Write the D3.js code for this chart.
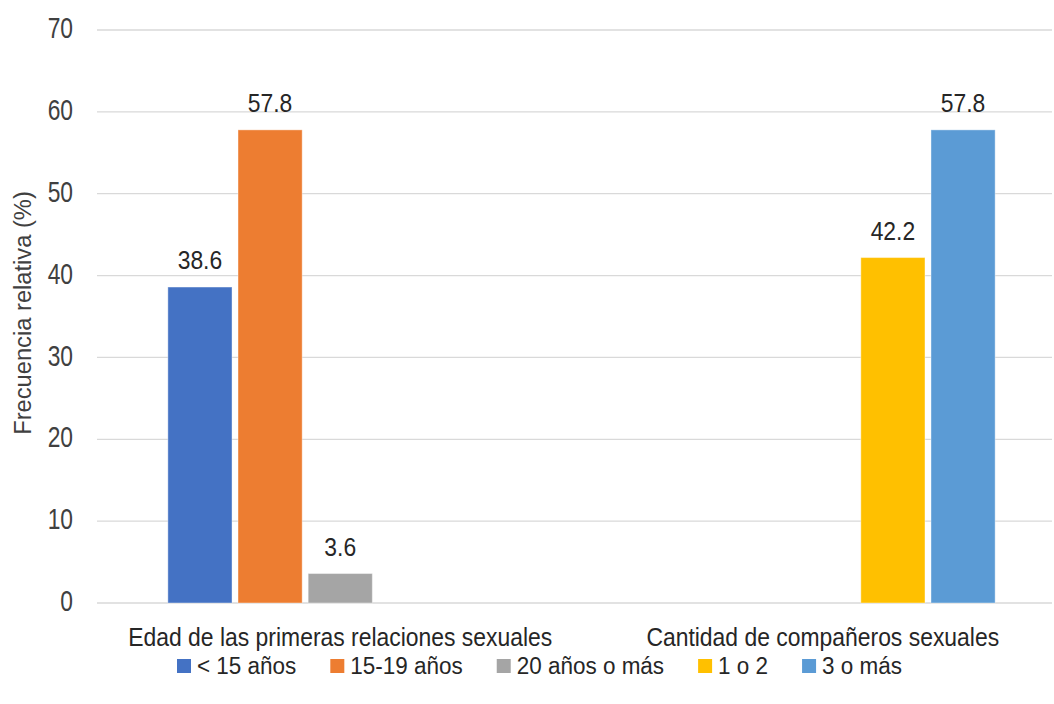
<!DOCTYPE html>
<html>
<head>
<meta charset="utf-8">
<script src="https://cdn.jsdelivr.net/npm/d3@7"></script>
<style>
  body { margin: 0; background: #fff; }
  text { font-family: "Liberation Sans", Arial, sans-serif; fill: #262626; }
</style>
</head>
<body>
<div id="chart"></div>
<script>
// data
var categories = ["Edad de las primeras relaciones sexuales", "Cantidad de compañeros sexuales"];
var seriesNames = ["< 15 años", "15-19 años", "20 años o más", "1 o 2", "3 o más"];
var seriesColors = ["#4472C4", "#ED7D31", "#A5A5A5", "#FFC000", "#5B9BD5"];
// values per series, one per category (null = no bar)
var edadValues = [38.6, 57.8, 3.6, null, null];
var companerosValues = [null, null, null, 42.2, 57.8];
var yTicks = [0, 10, 20, 30, 40, 50, 60, 70];

var svgWidth = 1054, svgHeight = 704;
var svg = d3.select("#chart").append("svg")
  .attr("width", svgWidth)
  .attr("height", svgHeight);

// squeeze Liberation Sans into an Arial Narrow look
function narrow(sel, k) {
  sel.each(function() {
    var len = this.getComputedTextLength();
    d3.select(this).attr("textLength", len * k).attr("lengthAdjust", "spacingAndGlyphs");
  });
}

// rows for the grouped bars
var rows = categories.map(function(c, i) {
  var vals = i === 0 ? edadValues : companerosValues;
  return { cat: c, values: seriesNames.map(function(s, j) { return { series: s, idx: j, value: vals[j] }; }) };
});

var x0 = d3.scaleBand().domain(categories).range([99, 1064]).paddingInner(0.273).paddingOuter(0.1365);
var x1 = d3.scaleBand().domain(seriesNames).range([0, x0.bandwidth()]);
var y = d3.scaleLinear().domain([0, 70]).range([603, 30]);

// gridlines
svg.append("g").selectAll("line")
  .data(yTicks)
  .enter().append("line")
  .attr("x1", 97).attr("x2", 1052)
  .attr("y1", d => y(d)).attr("y2", d => y(d))
  .attr("stroke", "#d9d9d9")
  .attr("stroke-width", 1.3);

// y axis labels
var yAxis = d3.axisLeft(y).tickValues(yTicks).tickSize(0).tickPadding(0);
var yg = svg.append("g").attr("transform", "translate(73,-2)").call(yAxis);
yg.select(".domain").remove();
yg.selectAll("text")
  .attr("font-family", null)
  .style("font-size", "30px")
  .style("fill", "#404040")
  .call(narrow, 0.76);

// axis title
svg.append("text")
  .attr("transform", "translate(31,313) rotate(-90)")
  .attr("text-anchor", "middle")
  .style("font-size", "23px")
  .style("fill", "#404040")
  .text("Frecuencia relativa (%)")
  .call(narrow, 1.03);

// bars
var groups = svg.append("g").selectAll("g")
  .data(rows)
  .enter().append("g")
  .attr("transform", d => "translate(" + x0(d.cat) + ",0)");

var gap = 6;
groups.selectAll("rect")
  .data(d => d.values.filter(v => v.value !== null))
  .enter().append("rect")
  .attr("x", d => x1(d.series) + gap / 2)
  .attr("width", x1.bandwidth() - gap)
  .attr("y", d => y(d.value))
  .attr("height", d => y(0) - y(d.value))
  .attr("fill", d => seriesColors[d.idx])
  .attr("stroke", "#ffffff")
  .attr("stroke-opacity", 0.4)
  .attr("stroke-width", 1);

// data labels
groups.selectAll("text.lbl")
  .data(d => d.values.filter(v => v.value !== null))
  .enter().append("text")
  .attr("class", "lbl")
  .attr("x", d => x1(d.series) + x1.bandwidth() / 2)
  .attr("y", d => y(d.value) - 18)
  .attr("text-anchor", "middle")
  .style("font-size", "26px")
  .text(d => d3.format(".1f")(d.value))
  .call(narrow, 0.88);

// category labels
var catText = svg.append("g").selectAll("text")
  .data(categories)
  .enter().append("text")
  .attr("x", d => x0(d) + x0.bandwidth() / 2)
  .attr("y", 646)
  .attr("text-anchor", "middle")
  .style("font-size", "26px")
  .text(d => d);
var catK = 424 / catText.node().getComputedTextLength();
catText.call(narrow, catK);

// legend: fit the whole row between x=177 and x=902
var legend = svg.append("g").attr("transform", "translate(0,666)");
var swatch = 14, swGap = 6, itemGap = 34;
var items = legend.selectAll("g")
  .data(seriesNames)
  .enter().append("g");
items.append("rect")
  .attr("x", 0).attr("y", -7)
  .attr("width", swatch).attr("height", swatch)
  .attr("fill", (d, i) => seriesColors[i]);
var legTexts = items.append("text")
  .attr("x", swatch + swGap).attr("y", 8)
  .style("font-size", "23px")
  .text(d => d);
var natural = [];
legTexts.each(function() { natural.push(this.getComputedTextLength()); });
var avail = 725 - seriesNames.length * (swatch + swGap) - (seriesNames.length - 1) * itemGap;
var legK = avail / d3.sum(natural);
legTexts.call(narrow, legK);
var lx = 177;
items.attr("transform", function(d, i) {
  var t = "translate(" + lx + ",0)";
  lx += swatch + swGap + natural[i] * legK + itemGap;
  return t;
});
</script>
</body>
</html>
